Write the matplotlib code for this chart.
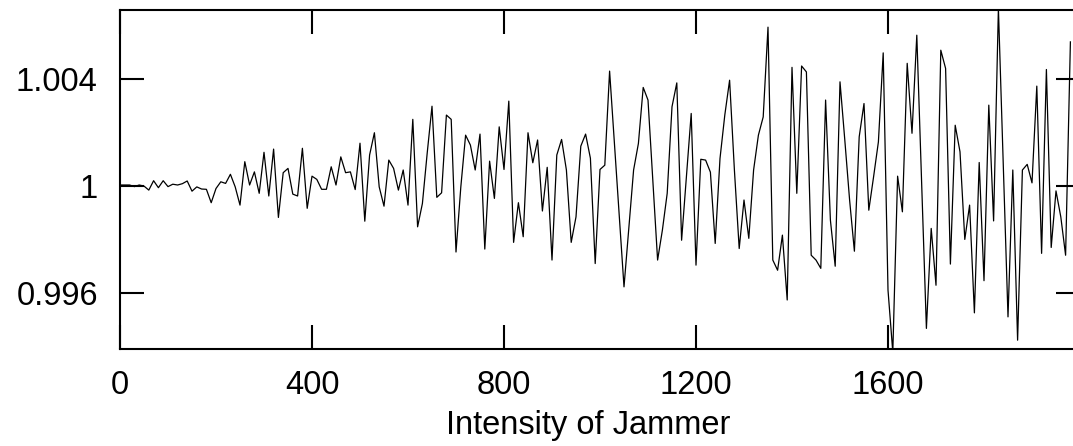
import numpy as np
import matplotlib
matplotlib.use("Agg")
import matplotlib.pyplot as plt

plt.rcParams['font.family'] = ['Liberation Sans', 'DejaVu Sans']

# jammer intensity (step 10)
intensity = list(range(0, 1990, 10))

# ratio values
ratio = [
    1.00003, 1.00003, 1.00003, 0.99997, 1.00003, 0.99999, 0.99984, 1.00019, 0.99993, 1.00019,
    0.99997, 1.00006, 1.00003, 1.00008, 1.00018, 0.99980, 0.99996, 0.99988, 0.99987, 0.99937,
    0.99990, 1.00015, 1.00009, 1.00043, 0.99996, 0.99928, 1.00090, 1.00003, 1.00052, 0.99972,
    1.00125, 0.99962, 1.00137, 0.99882, 1.00049, 1.00065, 0.99969, 0.99962, 1.00140, 0.99916,
    1.00036, 1.00024, 0.99987, 0.99987, 1.00071, 1.00003, 1.00108, 1.00049, 1.00052, 0.99986,
    1.00159, 0.99868, 1.00115, 1.00198, 0.99996, 0.99924, 1.00096, 1.00065, 0.99984, 1.00059,
    0.99928, 1.00248, 0.99847, 0.99934, 1.00122, 1.00297, 0.99957, 0.99974, 1.00264, 1.00248,
    0.99753, 0.99995, 1.00189, 1.00152, 1.00059, 1.00193, 0.99764, 1.00092, 0.99953, 1.00220,
    1.00061, 1.00316, 0.99789, 0.99937, 0.99810, 1.00198, 1.00086, 1.00171, 0.99906, 1.00069,
    0.99723, 1.00115, 1.00173, 1.00059, 0.99789, 0.99884, 1.00148, 1.00193, 1.00103, 0.99710,
    1.00061, 1.00077, 1.00428, 1.00159, 0.99891, 0.99623, 0.99842, 1.00059, 1.00158, 1.00367,
    1.00320, 1.00021, 0.99723, 0.99835, 0.99972, 1.00295, 1.00384, 0.99797, 1.00034, 1.00270,
    0.99704, 1.00099, 1.00096, 1.00051, 0.99785, 1.00102, 1.00264, 1.00394, 1.00059, 0.99766,
    0.99947, 0.99804, 1.00059, 1.00189, 1.00257, 1.00592, 0.99723, 0.99685, 0.99816, 0.99574,
    1.00442, 0.99972, 1.00447, 1.00425, 0.99741, 0.99723, 0.99692, 1.00320, 0.99872, 0.99700,
    1.00388, 1.00171, 0.99947, 0.99756, 1.00183, 1.00307, 0.99909, 1.00034, 1.00164, 1.00496,
    0.99611, 0.99379, 1.00036, 0.99903, 1.00457, 1.00196, 1.00562, 1.00021, 0.99468, 0.99841,
    0.99629, 1.00506, 1.00438, 0.99708, 1.00226, 1.00127, 0.99800, 0.99928, 0.99526, 1.00087,
    0.99646, 1.00301, 0.99869, 1.00663, 1.00085, 0.99511, 1.00059, 0.99424, 1.00059, 1.00080,
    1.00011, 1.00372, 0.99748, 1.00434, 0.99770, 0.99981, 0.99884, 0.99741, 1.00537,
]

xticks = [0, 400, 800, 1200, 1600]
yticks = [0.996, 1.0, 1.004]
ytick_labels = ['0.996', '1', '1.004']

fig = plt.figure(figsize=(10.73, 4.46), dpi=100)
# right edge of the frame sits just outside the picture
ax = fig.add_axes([120/1073, 96.7/446, 960/1073, 339.3/446])

ax.plot(intensity, ratio, color='black', lw=0.9)

ax.set_xlim(0, 2000)
ax.set_ylim(0.99390, 1.00656)
ax.set_xticks(xticks)
ax.set_xticklabels([str(t) for t in xticks])
ax.set_yticks(yticks)
ax.set_yticklabels(ytick_labels)

ax.tick_params(direction='in', length=17, width=1.5, labelsize=23.5,
               top=True, right=True, colors='black')
ax.tick_params(axis='y', pad=16)
ax.tick_params(axis='x', pad=15)
for s in ax.spines.values():
    s.set_linewidth(1.5)

ax.set_xlabel('Intensity of Jammer', fontsize=23.5)
ax.xaxis.label.set_ha('left')
ax.xaxis.set_label_coords((446 - 120) / 960, -0.178)

plt.savefig('out.png', dpi=100)
